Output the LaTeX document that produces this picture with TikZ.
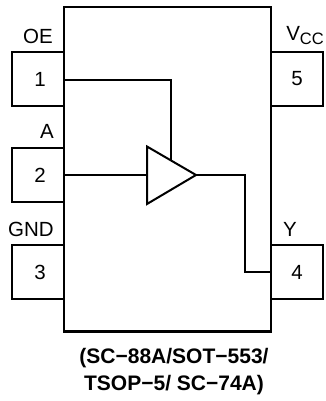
\documentclass[tikz,border=0pt]{standalone}
\usepackage{fontspec}
\setmainfont{Liberation Sans}
\newcommand{\lbl}{\fontsize{20.5}{24}\selectfont}
\tikzset{
  x=1pt,y=-1pt,
  every node/.style={font=\lbl,inner sep=0pt,outer sep=0pt},
  pinbox/.style={draw=black,line width=2pt,minimum width=51.5pt,minimum height=54.5pt},
  body/.style={draw=black,line width=2.2pt,minimum width=207pt,minimum height=324.5pt},
  wire/.style={draw=black,line width=2pt,line join=miter},
  tag/.style={anchor=base},
  caption/.style={font=\fontsize{21}{27}\selectfont\bfseries,align=center}
}
\begin{document}
\begin{tikzpicture}
\useasboundingbox (0,0) rectangle (325,401);
\node[body] (chip) at (167.5,169.3) {};
\node[pinbox] (p1) at (38.2,79) {\hspace{3.5pt}1};
\node[pinbox] (p2) at (38.2,175) {\hspace{3.5pt}2};
\node[pinbox] (p3) at (38.2,272) {\hspace{3.5pt}3};
\node[pinbox] (p5) at (297,79) {5};
\node[pinbox] (p4) at (297,272) {4};
\node[tag] (oe) at (38,43.5) {OE};
\node[tag] (a) at (47,138.7) {A};
\node[tag] (gnd) at (31,236) {GND};
\node[tag] (y) at (290,236) {Y};
\node[tag] (vcc) at (305,41) {V\raisebox{-4pt}{\fontsize{16.5}{18}\selectfont CC}};
\coordinate (tl) at (147,146.5);
\coordinate (bl) at (147,204);
\coordinate (tip) at (196,175);
\coordinate (en) at (171,160.5);
\draw[wire,line join=miter] (tl) -- (tip) -- (bl) -- cycle;
\draw[wire] (p1.east |- 0,80.5) -| (en);
\draw[wire] (p2.east) -- (tl |- tip);
\draw[wire] (tip) -| (245,272) -- (p4.west);
\node[caption,anchor=base] (cap) at (174,390) {(SC−88A/SOT−553/\\TSOP−5/ SC−74A)};
\end{tikzpicture}
\end{document}
